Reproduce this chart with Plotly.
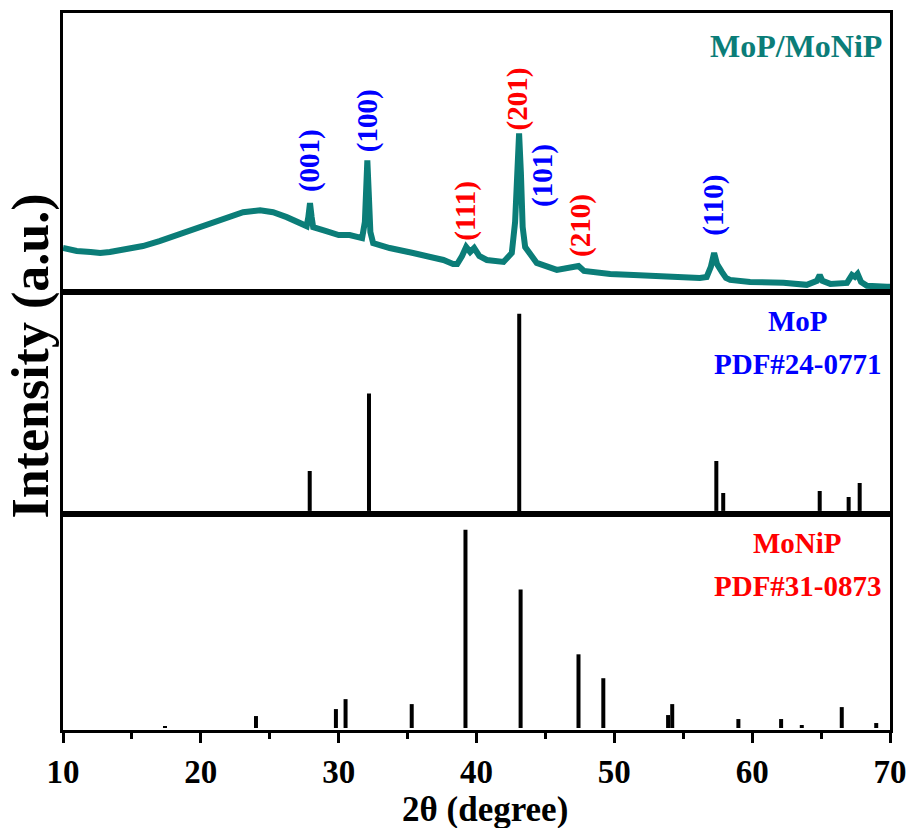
import plotly.graph_objects as go
from plotly.subplots import make_subplots

# ---------------- data ----------------
# MoP/MoNiP measured pattern (2theta, intensity in arbitrary units)
two_theta = [10.0, 10.5, 11.0, 12.0, 12.7, 13.4, 14.6, 15.8, 17.0, 18.25, 19.45, 20.67,
             21.9, 23.07, 24.3, 25.24, 26.23, 27.2, 27.68, 27.8, 27.92, 28.04, 28.15,
             29.1, 30.0, 30.8, 31.7, 31.9, 32.0, 32.08, 32.18, 32.3, 32.5, 33.7, 35.4,
             36.6, 37.6, 38.3, 38.6, 38.95, 39.25, 39.54, 39.83, 40.2, 40.75, 41.96,
             42.56, 42.8, 42.95, 43.09, 43.22, 43.35, 43.53, 44.37, 45.83, 47.0, 47.4,
             47.8, 48.73, 49.7, 51.4, 53.8, 56.2, 56.7, 57.0, 57.24, 57.45, 57.8, 58.1,
             58.4, 59.85, 62.27, 63.96, 64.7, 64.9, 65.1, 65.67, 66.88, 67.24, 67.45,
             67.65, 67.9, 68.33, 69.78, 70.0]
intensity = [44, 42, 41, 40, 39, 40, 43, 46, 51, 57, 64, 70,
             75, 80, 82, 80, 75, 69, 66, 75, 89, 75, 65,
             61, 57, 57, 54, 70, 110, 132, 100, 60, 49, 44, 39,
             35, 32, 28, 28, 36, 45, 40, 44, 36, 32, 30,
             39, 70, 130, 159, 120, 65, 45, 29, 22, 24, 26,
             21, 19, 18, 17, 15, 14, 15, 25, 39, 28, 20, 14,
             12, 10, 9, 7, 11, 17, 11, 8, 9, 17, 15,
             18, 10, 6, 5, 5]

# MoP reference PDF#24-0771
mop_pos = [27.9, 32.2, 43.1, 57.4, 57.9, 64.9, 67.0, 67.8]
mop_int = [40, 118, 198, 50, 18, 20, 14, 28]

# MoNiP reference PDF#31-0873
monip_pos = [17.4, 24.0, 29.8, 30.5, 35.3, 39.2, 43.2, 47.4, 49.2, 53.9, 54.2,
             59.0, 62.1, 63.6, 66.5, 69.0]
monip_int = [2, 12, 19, 29, 24, 199, 139, 74, 50, 13, 24, 9, 9, 3, 21, 5]

# peak labels
peak_labels = ["(001)", "(100)", "(111)", "(201)", "(101)", "(210)", "(110)"]
peak_label_x = [27.9, 32.1, 39.2, 43.0, 44.8, 47.5, 57.2]
peak_label_y = [132, 172, 82, 194, 117, 67, 87]
peak_phase = ["MoP", "MoP", "MoNiP", "MoNiP", "MoP", "MoNiP", "MoP"]

x_ticks = [10, 20, 30, 40, 50, 60, 70]

# ---------------- styling ----------------
TEAL = "#0b7d78"
BLUE = "#0000ff"
RED = "#ff0000"
FONT = "Liberation Serif"
phase_color = {"MoP": BLUE, "MoNiP": RED}


def sticks(pos, inten):
    xs, ys = [], []
    for p, h in zip(pos, inten):
        xs += [p, p, None]
        ys += [0, h, None]
    return xs, ys


fig = make_subplots(rows=3, cols=1, shared_xaxes=True, vertical_spacing=0)

fig.add_trace(go.Scatter(x=two_theta, y=intensity, mode="lines",
                         line=dict(color=TEAL, width=6), showlegend=False), row=1, col=1)
sx, sy = sticks(mop_pos, mop_int)
fig.add_trace(go.Scatter(x=sx, y=sy, mode="lines", line=dict(color="black", width=4),
                         showlegend=False), row=2, col=1)
sx, sy = sticks(monip_pos, monip_int)
fig.add_trace(go.Scatter(x=sx, y=sy, mode="lines", line=dict(color="black", width=4),
                         showlegend=False), row=3, col=1)

# layout geometry (pixels): plot area from TOP_PX to BOT_PX
TOP_PX, BOT_PX = 10, 730
H = float(BOT_PX - TOP_PX)
W = 827.0
B1 = BOT_PX - 217          # bottom/middle boundary
B2 = BOT_PX - 440          # middle/top boundary
dom_bottom = [0, (BOT_PX - B1) / H]
dom_mid = [(BOT_PX - B1) / H, (BOT_PX - B2) / H]
dom_top = [(BOT_PX - B2) / H, 1]

axis_common = dict(showline=True, mirror=True, linewidth=3, linecolor="black",
                   showgrid=False, zeroline=False)
for ax in ["xaxis", "xaxis2", "xaxis3"]:
    fig.layout[ax].update(range=[10, 70], ticks="", showticklabels=False, **axis_common)
fig.layout.xaxis3.update(
    ticks="outside", ticklen=10, tickwidth=3, tickcolor="black",
    showticklabels=True, tickvals=x_ticks,
    tickfont=dict(family=FONT, size=33, color="black", weight="bold"),
    minor=dict(ticks="outside", ticklen=6, tickwidth=3, tickcolor="black", dtick=5, tick0=10),
)
fig.layout.yaxis.update(domain=dom_top, range=[0, 280], ticks="", showticklabels=False, **axis_common)
fig.layout.yaxis2.update(domain=dom_mid, range=[-3, 220], ticks="", showticklabels=False, **axis_common)
fig.layout.yaxis3.update(domain=dom_bottom, range=[-2, 215], ticks="", showticklabels=False, **axis_common)

annotations = []
for t, x, y, ph in zip(peak_labels, peak_label_x, peak_label_y, peak_phase):
    annotations.append(dict(text=t, x=x, y=y, xref="x", yref="y", showarrow=False,
                            textangle=-90,
                            font=dict(family=FONT, size=29, color=phase_color[ph], weight="bold")))

annotations += [
    dict(text="MoP/MoNiP", x=69.6, y=247, xref="x", yref="y", xanchor="right", showarrow=False,
         font=dict(family=FONT, size=32, color=TEAL, weight="bold")),
    dict(text="MoP", x=63.3, y=191, xref="x", yref="y2", showarrow=False,
         font=dict(family=FONT, size=29, color=BLUE, weight="bold")),
    dict(text="PDF#24-0771", x=63.3, y=148, xref="x", yref="y2", showarrow=False,
         font=dict(family=FONT, size=29, color=BLUE, weight="bold")),
    dict(text="MoNiP", x=63.3, y=186, xref="x", yref="y3", showarrow=False,
         font=dict(family=FONT, size=29, color=RED, weight="bold")),
    dict(text="PDF#31-0873", x=63.3, y=143, xref="x", yref="y3", showarrow=False,
         font=dict(family=FONT, size=29, color=RED, weight="bold")),
    dict(text="Intensity (a.u.)", x=(31 - 63) / W, y=(BOT_PX - 355) / H, xref="paper", yref="paper",
         xanchor="center", yanchor="middle",
         showarrow=False, textangle=-90,
         font=dict(family=FONT, size=52, color="black", weight="bold")),
    dict(text="2θ (degree)", x=(485 - 63) / W, y=(BOT_PX - 810) / H, xref="paper", yref="paper",
         xanchor="center", yanchor="middle", showarrow=False,
         font=dict(family=FONT, size=35, color="black", weight="bold")),
]

fig.update_layout(
    width=917, height=828,
    margin=dict(l=63, r=27, t=TOP_PX, b=828 - BOT_PX),
    paper_bgcolor="white", plot_bgcolor="white",
    font=dict(family=FONT, color="black", weight="bold"),
    annotations=annotations,
    showlegend=False,
)

fig.write_html("out.html", config={"displayModeBar": False},
               post_script="document.body.style.margin='0';")
